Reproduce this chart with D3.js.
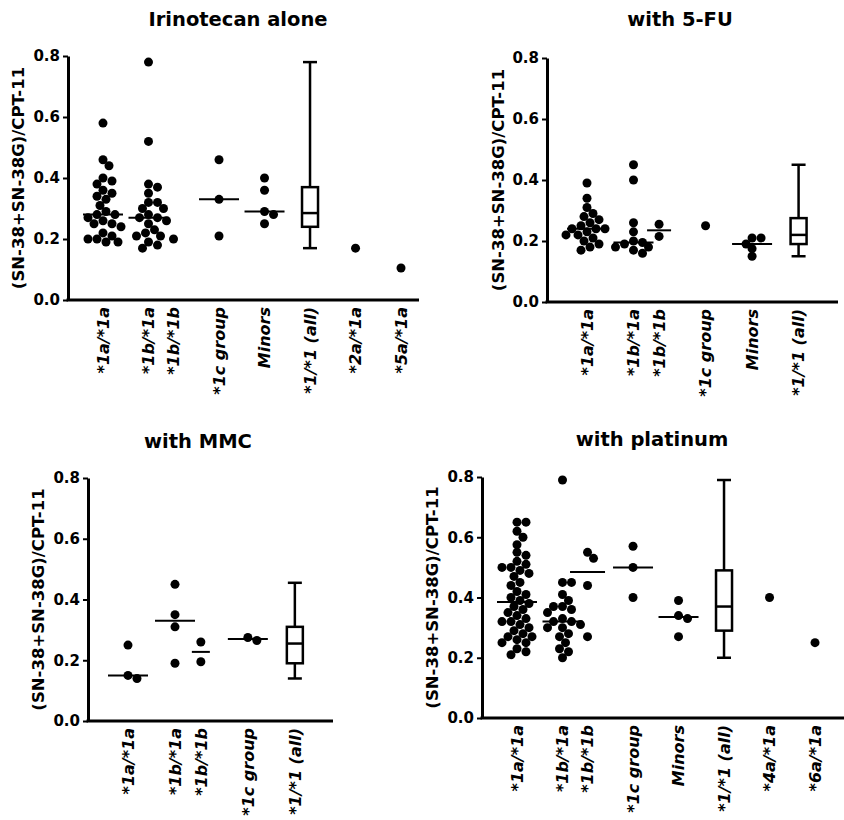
<!DOCTYPE html>
<html lang="en">
  <head>
    <meta charset="utf-8">
    <title>SN-38 ratio by genotype</title>
    <script src="https://d3js.org/d3.v7.min.js"></script>
    <style>
      body { margin: 0; background: #fff; }
      text { font-family: "DejaVu Sans", sans-serif; font-weight: bold; fill: #000; }
    </style>
  </head>
  <body>
    <script>
      var w = 844, h = 820;

      // ---- data ----
      var titles = ["Irinotecan alone", "with 5-FU", "with MMC", "with platinum"];
      var yTicks = [0, 0.2, 0.4, 0.6, 0.8];
      var yLabel = "(SN-38+SN-38G)/CPT-11";

      var irinoCats = ["*1a/*1a", "*1b/*1a", "*1b/*1b", "*1c group", "Minors", "*1/*1 (all)", "*2a/*1a", "*5a/*1a"];
      var irinoValues = [
        [0.58, 0.46, 0.44, 0.40, 0.39, 0.38, 0.36, 0.35, 0.34, 0.33, 0.31, 0.29, 0.28, 0.28, 0.27, 0.26, 0.25, 0.25, 0.24, 0.22, 0.21, 0.20, 0.20, 0.19, 0.19],
        [0.78, 0.52, 0.38, 0.37, 0.35, 0.32, 0.32, 0.30, 0.30, 0.28, 0.27, 0.27, 0.26, 0.25, 0.23, 0.22, 0.21, 0.21, 0.19, 0.18, 0.17],
        [0.20],
        [0.46, 0.33, 0.21],
        [0.40, 0.36, 0.29, 0.28, 0.25],
        [],
        [0.17],
        [0.105]
      ];
      var irinoBox = [0.17, 0.24, 0.285, 0.37, 0.78]; // min, q1, median, q3, max

      var fuCats = ["*1a/*1a", "*1b/*1a", "*1b/*1b", "*1c group", "Minors", "*1/*1 (all)"];
      var fuValues = [
        [0.39, 0.34, 0.31, 0.29, 0.28, 0.27, 0.26, 0.25, 0.24, 0.24, 0.24, 0.23, 0.22, 0.22, 0.21, 0.20, 0.19, 0.18, 0.17],
        [0.45, 0.40, 0.26, 0.23, 0.20, 0.195, 0.19, 0.18, 0.18, 0.17, 0.16],
        [0.255, 0.215],
        [0.25],
        [0.21, 0.21, 0.19, 0.175, 0.15],
        []
      ];
      var fuBox = [0.15, 0.19, 0.22, 0.275, 0.45];

      var mmcCats = ["*1a/*1a", "*1b/*1a", "*1b/*1b", "*1c group", "*1/*1 (all)"];
      var mmcValues = [
        [0.25, 0.15, 0.14],
        [0.45, 0.35, 0.31, 0.19],
        [0.26, 0.195],
        [0.275, 0.265],
        []
      ];
      var mmcBox = [0.14, 0.19, 0.255, 0.31, 0.455];

      var platCats = ["*1a/*1a", "*1b/*1a", "*1b/*1b", "*1c group", "Minors", "*1/*1 (all)", "*4a/*1a", "*6a/*1a"];
      var platValues = [
        [0.65, 0.65, 0.62, 0.60, 0.575, 0.55, 0.54, 0.52, 0.51, 0.50, 0.50, 0.49, 0.48, 0.47, 0.45, 0.44, 0.42, 0.41, 0.40, 0.39,
         0.38, 0.37, 0.36, 0.35, 0.34, 0.33, 0.32, 0.32, 0.31, 0.30, 0.29, 0.28, 0.27, 0.27, 0.26, 0.25, 0.25, 0.23, 0.22, 0.21],
        [0.79, 0.45, 0.45, 0.41, 0.39, 0.37, 0.37, 0.36, 0.35, 0.33, 0.32, 0.32, 0.31, 0.30, 0.30, 0.28, 0.27, 0.25, 0.23, 0.22, 0.20],
        [0.55, 0.53, 0.44, 0.27],
        [0.57, 0.50, 0.40],
        [0.39, 0.34, 0.33, 0.27],
        [],
        [0.40],
        [0.25]
      ];
      var platBox = [0.20, 0.29, 0.37, 0.49, 0.79];

      // ---- layout of the four panels ----
      var panels = [
        {title: titles[0], cats: irinoCats, values: irinoValues, box: irinoBox,
         axisX: 68, yTop: 56, yBot: 300, right: 419, x0: 103, step: 45.5, pairW: 24, titleX: 238, titleY: 26, labelX: 18},
        {title: titles[1], cats: fuCats, values: fuValues, box: fuBox,
         axisX: 547, yTop: 58, yBot: 302, right: 838, x0: 587, step: 46.5, pairW: 24, titleX: 680, titleY: 26, labelX: 498},
        {title: titles[2], cats: mmcCats, values: mmcValues, box: mmcBox,
         axisX: 88, yTop: 478, yBot: 721, right: 333, x0: 128, step: 47, pairW: 18, titleX: 198, titleY: 448, labelX: 38},
        {title: titles[3], cats: platCats, values: platValues, box: platBox,
         axisX: 482, yTop: 477, yBot: 718, right: 844, x0: 517, step: 45.5, pairW: 35, titleX: 652, titleY: 446, labelX: 432}
      ];

      var svg = d3.select("body").append("svg")
        .attr("width", w)
        .attr("height", h);

      svg.append("rect")
        .attr("width", w).attr("height", h)
        .attr("fill", "#fff");

      var r = 4.5;

      // simple deterministic beeswarm: nearest free horizontal offset
      function swarm(vals, y) {
        var placed = [];
        vals.slice().sort((a, b) => b - a).forEach(function(v) {
          var cy = y(v), k = 0, dx = 0;
          while (true) {
            dx = (k % 2 ? 1 : -1) * Math.ceil(k / 2) * 3;
            var ok = placed.every(p => Math.hypot(p.dx - dx, p.cy - cy) >= 2 * r * 0.8);
            if (ok) break;
            k++;
          }
          placed.push({dx: dx, cy: cy, v: v});
        });
        return placed;
      }

      panels.forEach(function(p) {
        var g = svg.append("g");

        var y = d3.scaleLinear().domain([0, 0.8]).range([p.yBot, p.yTop]);

        // slot positions: the *1b/*1b column sits close to *1b/*1a
        var slots = [], s = 0;
        p.cats.forEach(function(c, i) {
          if (i > 0) s += (c === "*1b/*1b" ? 0.55 : 1);
          slots.push(s);
        });
        var x = d3.scaleLinear().domain([0, 1]).range([p.x0, p.x0 + p.step]);

        // title
        g.append("text")
          .attr("x", p.titleX).attr("y", p.titleY)
          .attr("text-anchor", "middle")
          .style("font-size", "19.5px")
          .text(p.title);

        // y axis
        var yAxis = d3.axisLeft(y)
          .tickValues(yTicks)
          .tickFormat(d3.format(".1f"))
          .tickSize(5)
          .tickSizeOuter(0)
          .tickPadding(3);
        var ya = g.append("g")
          .attr("transform", `translate(${p.axisX},0)`)
          .call(yAxis);
        ya.select(".domain").attr("stroke-width", 3).attr("stroke", "#000");
        ya.selectAll(".tick line").attr("stroke-width", 2);
        ya.selectAll(".tick text")
          .style("font-size", "15px")
          .style("font-family", "'DejaVu Sans', sans-serif")
          .style("font-weight", "bold");

        // y label
        g.append("text")
          .attr("transform", `translate(${p.labelX},${y(0.4)}) rotate(-90)`)
          .attr("text-anchor", "middle")
          .attr("dy", "0.35em")
          .style("font-size", "16.5px")
          .text(yLabel);

        // x axis line
        g.append("line")
          .attr("x1", p.axisX - 1.5).attr("x2", p.right)
          .attr("y1", y(0)).attr("y2", y(0))
          .attr("stroke", "#000").attr("stroke-width", 3);

        // category labels
        p.cats.forEach(function(c, i) {
          g.append("text")
            .attr("transform", `translate(${x(slots[i])},${y(0) + 7}) rotate(-90)`)
            .attr("text-anchor", "end")
            .attr("dy", "0.36em")
            .style("font-size", "16px")
            .style("font-style", "italic")
            .text(c);
        });

        // dots + medians
        p.values.forEach(function(vals, i) {
          if (!vals.length) return;
          var cx = x(slots[i]);
          g.selectAll(null)
            .data(swarm(vals, y))
            .enter().append("circle")
            .attr("cx", d => cx + d.dx)
            .attr("cy", d => d.cy)
            .attr("r", r)
            .attr("fill", "#000");
          if (vals.length > 1) {
            var half = (p.cats[i] === "*1b/*1b" ? p.pairW : 40) / 2;
            var m = d3.median(vals);
            g.append("line")
              .attr("x1", cx - half).attr("x2", cx + half)
              .attr("y1", y(m)).attr("y2", y(m))
              .attr("stroke", "#000").attr("stroke-width", 2);
          }
        });

        // box plot for the *1/*1 (all) column
        var bi = p.cats.indexOf("*1/*1 (all)");
        var bx = x(slots[bi]), bw = 16, cw = 14;
        var b = p.box;
        var bg = g.append("g").attr("stroke", "#000").attr("stroke-width", 2.5).attr("fill", "none");
        bg.append("line").attr("x1", bx).attr("x2", bx).attr("y1", y(b[0])).attr("y2", y(b[1]));
        bg.append("line").attr("x1", bx).attr("x2", bx).attr("y1", y(b[3])).attr("y2", y(b[4]));
        bg.append("line").attr("x1", bx - cw / 2).attr("x2", bx + cw / 2).attr("y1", y(b[0])).attr("y2", y(b[0]));
        bg.append("line").attr("x1", bx - cw / 2).attr("x2", bx + cw / 2).attr("y1", y(b[4])).attr("y2", y(b[4]));
        bg.append("rect")
          .attr("x", bx - bw / 2).attr("width", bw)
          .attr("y", y(b[3])).attr("height", y(b[1]) - y(b[3]))
          .attr("fill", "#fff");
        bg.append("line").attr("x1", bx - bw / 2).attr("x2", bx + bw / 2).attr("y1", y(b[2])).attr("y2", y(b[2]));
      });
    </script>
  </body>
</html>
